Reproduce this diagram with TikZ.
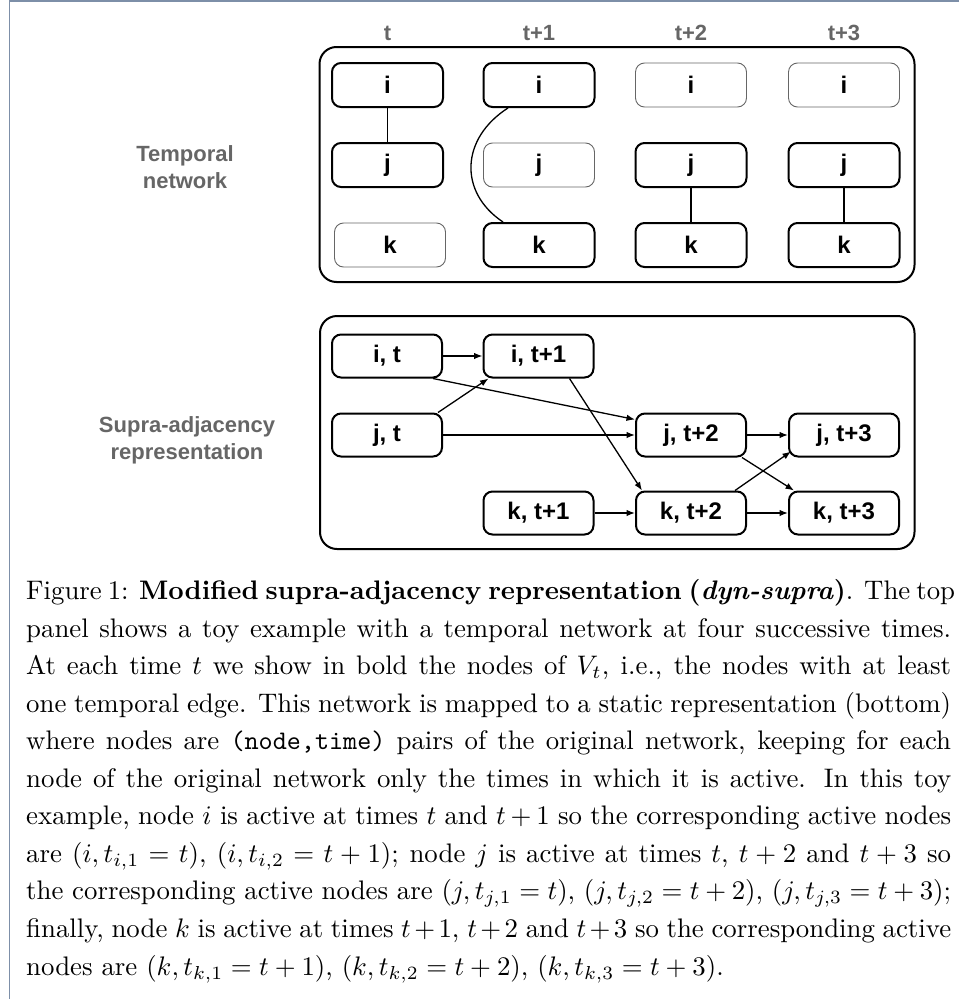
\RequirePackage{fix-cm}
\documentclass[tikz,border=0pt]{standalone}
\usepackage{graphicx}
\usepackage{fontspec}
\newfontfamily\diagfont{Liberation Sans}
\usetikzlibrary{arrows.meta,calc}
\definecolor{framecol}{RGB}{125,143,168}
\definecolor{labgray}{RGB}{102,102,102}
\begin{document}
\begin{tikzpicture}[x=1pt,y=-1pt,
  act/.style={draw, rounded corners=9pt, line width=2pt, minimum width=111pt, minimum height=44pt, inner sep=0pt, font=\diagfont\bfseries\fontsize{24}{24}\selectfont},
  ina/.style={act, line width=0.9pt, draw=black!60},
  sup/.style={act, minimum width=110pt, minimum height=43pt},
  panel/.style={draw, rounded corners=17pt, line width=2pt},
  lab/.style={text=labgray, font=\diagfont\bfseries\fontsize{22}{27}\selectfont, align=center, inner sep=0pt},
  edge/.style={line width=1.3pt},
  arr/.style={line width=1.3pt, -{Latex[length=8.5pt,width=6.5pt]}}
]
\useasboundingbox (0,0) rectangle (959,999);
% figure frame
\draw[framecol, line width=1.6pt] (959,0.8) -- (9.6,0.8) -- (9.6,999);

% ---------- top panel ----------
\draw[panel] (319.5,47) rectangle (914.5,282);
\node[lab] (lt0) at (387.5,33) {t};
\node[lab] (lt1) at (539,33) {t+1};
\node[lab] (lt2) at (691,33) {t+2};
\node[lab] (lt3) at (844,33) {t+3};
\node[lab] (ltemp) at (185,167) {Temporal\\network};

\node[act] (i1) at (387.5,85) {i};
\node[act] (j1) at (387.5,165) {j};
\node[ina] (k1) at (390,245) {k};
\node[act] (i2) at (539,85) {i};
\node[ina] (j2) at (539,165) {j};
\node[act] (k2) at (539,245) {k};
\node[ina] (i3) at (691,85) {i};
\node[act] (j3) at (691,165) {j};
\node[act] (k3) at (691,245) {k};
\node[ina] (i4) at (844,85) {i};
\node[act] (j4) at (844,165) {j};
\node[act] (k4) at (844,245) {k};

\draw[edge] (i1.south) -- (j1.north);
\draw[edge] ([xshift=-31pt]i2.south) .. controls (461,138) and (458,192) .. ([xshift=-36pt]k2.north);
\draw[edge] (j3.south) -- (k3.north);
\draw[edge] (j4.south) -- (k4.north);

% ---------- bottom panel ----------
\draw[panel] (320,316) rectangle (914.5,549);
\node[lab] (lsupra) at (187,440) {Supra-adjacency\\representation};

\node[sup] (it) at (387,356) {i, t};
\node[sup] (it1) at (538.5,356) {i, t+1};
\node[sup] (jt) at (387,435) {j, t};
\node[sup] (jt2) at (691,435) {j, t+2};
\node[sup] (jt3) at (844,435) {j, t+3};
\node[sup] (kt1) at (538.5,513) {k, t+1};
\node[sup] (kt2) at (691,513) {k, t+2};
\node[sup] (kt3) at (844,513) {k, t+3};

\draw[arr] (it.east) -- (it1.west);
\draw[arr] ([xshift=-10pt]it.south east) -- ([yshift=-7pt]jt2.north west);
\draw[arr] ([xshift=-5pt]jt.north east) -- ([xshift=6pt]it1.south west);
\draw[arr] (jt.east) -- (jt2.west);
\draw[arr] ([xshift=-25pt]it1.south east) -- ([xshift=7pt]kt2.north west);
\draw[arr] (jt2.east) -- (jt3.west);
\draw[arr] ([xshift=-5pt]jt2.south east) -- ([xshift=6pt]kt3.north west);
\draw[arr] ([xshift=-12pt]kt2.north east) -- ([xshift=3pt,yshift=6pt]jt3.south west);
\draw[arr] (kt1.east) -- (kt2.west);
\draw[arr] (kt2.east) -- (kt3.west);

% ---------- caption ----------
\node[anchor=base west, inner sep=0pt] (cap) at (26,975) {\scalebox{2.681}{\fontsize{10}{14}\selectfont\vbox{\baselineskip=14pt\lineskiplimit=-10pt
\hbox to 345pt{Figure 1: \textbf{Modified supra-adjacency representation (\textit{dyn-supra})}. The top}
\hbox to 345pt{panel shows a toy example with a temporal network at four successive times.}
\hbox to 345pt{At each time $t$ we show in bold the nodes of $V_t$, i.e., the nodes with at least}
\hbox to 345pt{one temporal edge. This network is mapped to a static representation (bottom)}
\hbox to 345pt{where nodes are \texttt{(node,time)} pairs of the original network, keeping for each}
\hbox to 345pt{node of the original network only the times in which it is active. In this toy}
\hbox to 345pt{example, node $i$ is active at times $t$ and $t+1$ so the corresponding active nodes}
\hbox to 345pt{are $(i,t_{i,1}=t)$, $(i,t_{i,2}=t+1)$; node $j$ is active at times $t$, $t+2$ and $t+3$ so}
\hbox to 345pt{the corresponding active nodes are $(j,t_{j,1}=t)$, $(j,t_{j,2}=t+2)$, $(j,t_{j,3}=t+3)$;}
\hbox to 345pt{finally, node $k$ is active at times $t+1$, $t+2$ and $t+3$ so the corresponding active}
\hbox to 345pt{nodes are $(k,t_{k,1}=t+1)$, $(k,t_{k,2}=t+2)$, $(k,t_{k,3}=t+3)$.\hfil}}}};
\end{tikzpicture}
\end{document}
